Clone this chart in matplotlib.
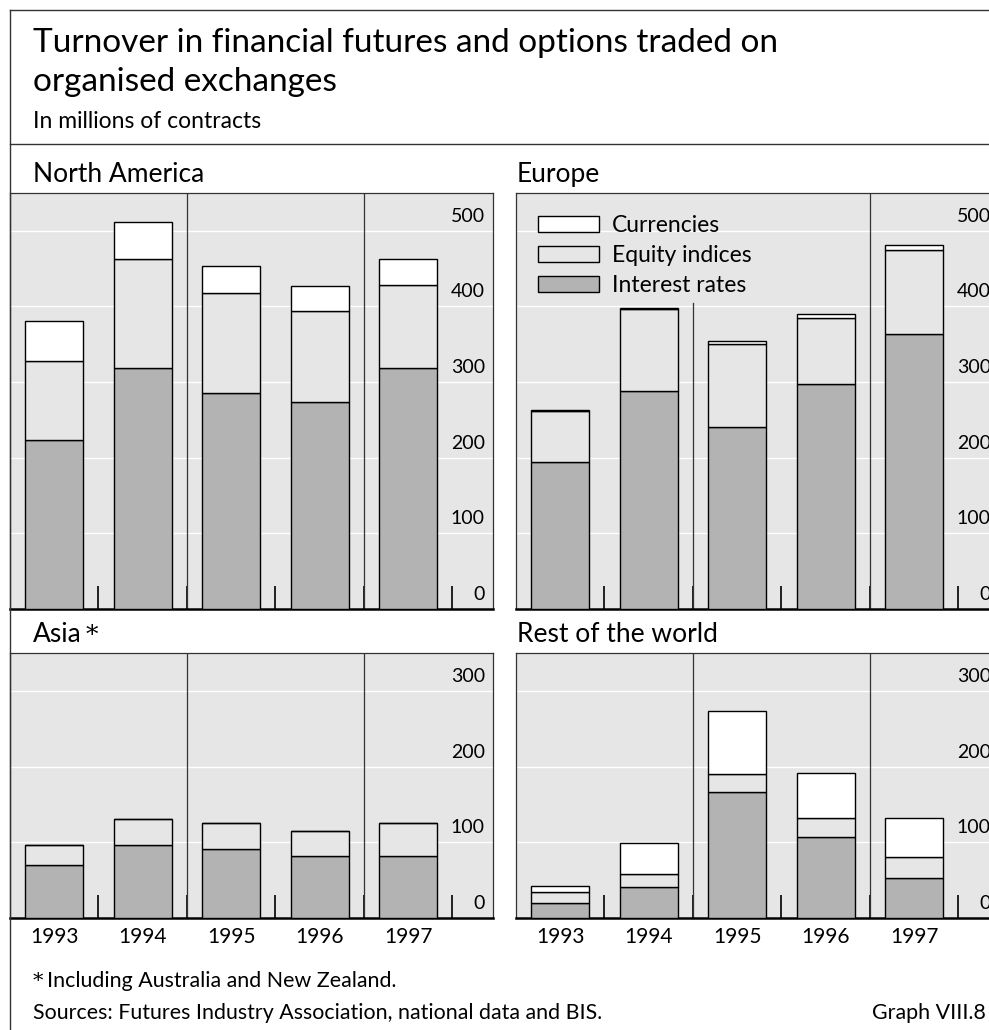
import matplotlib
matplotlib.use('Agg')
import matplotlib.pyplot as plt
import numpy as np
from matplotlib.patches import Patch
from matplotlib.lines import Line2D
import matplotlib.transforms as mtransforms

plt.rcParams['font.family'] = ['Lato', 'DejaVu Sans']

# ---------------- data ----------------
years = ['1993', '1994', '1995', '1996', '1997']
series_names = ['Currencies', 'Equity indices', 'Interest rates']

na_interest = [223, 318, 285, 274, 318]
na_equity = [105, 145, 133, 120, 111]
na_currency = [53, 49, 36, 33, 34]

eu_interest = [195, 288, 240, 297, 363]
eu_equity = [67, 109, 111, 88, 112]
eu_currency = [1, 1, 3, 5, 6]

as_interest = [70, 97, 91, 82, 82]
as_equity = [27, 34, 35, 33, 44]
as_currency = [0, 0, 0, 0, 0]

rw_interest = [20, 41, 167, 107, 53]
rw_equity = [14, 17, 23, 25, 28]
rw_currency = [8, 41, 84, 60, 51]

top_ticks = [0, 100, 200, 300, 400, 500]
bottom_ticks = [0, 100, 200, 300]

panel_titles = ['North America', 'Europe', 'Asia', 'Rest of the world']

# ---------------- style ----------------
W, H = 989, 1030
BG = '#e6e6e6'
IR_C = '#b3b3b3'
EQ_C = '#e6e6e6'
CU_C = '#ffffff'
LINE_C = '#333333'

fig = plt.figure(figsize=(W / 100, H / 100), dpi=100)
fig.patch.set_facecolor('white')


def fx(px):
    return px / W


def fy(py):
    return 1 - py / H


def make_axes(left, top, bottom, width=483):
    return fig.add_axes([fx(left), fy(bottom), width / W, (bottom - top) / H])


def draw_panel(ax, ir, eq, cu, ymax, ticks, show_years, vline_top=(1.0, 1.0)):
    x = np.arange(len(years))
    ir = np.array(ir, float)
    eq = np.array(eq, float)
    cu = np.array(cu, float)
    ax.set_facecolor(BG)
    ax.set_xlim(-0.5, 4.96)
    ax.set_ylim(0, ymax)
    for t in ticks:
        ax.axhline(t, color='white', lw=1.0, zorder=1)
    ax.axvline(1.5, ymin=0, ymax=vline_top[0], color=LINE_C, lw=0.9, zorder=2)
    ax.axvline(3.5, ymin=0, ymax=vline_top[1], color=LINE_C, lw=0.9, zorder=2)
    bw = 0.655
    ax.bar(x, ir, width=bw, color=IR_C, edgecolor='black', lw=1.0, zorder=3)
    ax.bar(x, eq, width=bw, bottom=ir, color=EQ_C, edgecolor='black', lw=1.0, zorder=3)
    ax.bar(x, cu, width=bw, bottom=ir + eq, color=CU_C, edgecolor='black', lw=1.0, zorder=3)
    # y labels inside on the right, raised above their gridlines
    trans = mtransforms.offset_copy(ax.get_yaxis_transform(), fig=fig, x=0, y=9, units='dots')
    for t in ticks:
        ax.text(0.983, t, str(t), transform=trans, ha='right', va='baseline',
                fontsize=14, color='black', zorder=5, clip_on=False)
    ax.set_yticks([])
    ax.set_xticks(x)
    if show_years:
        ax.set_xticklabels(years, fontsize=15)
    else:
        ax.set_xticklabels([])
    ax.tick_params(axis='x', which='major', length=0, pad=6.5)
    ax.set_xticks(x + 0.5, minor=True)
    ax.tick_params(axis='x', which='minor', direction='in', length=16.5, width=1.2, color='black')
    for s in ['top', 'left', 'right']:
        ax.spines[s].set_color(LINE_C)
        ax.spines[s].set_linewidth(0.9)
    ax.spines['bottom'].set_color('black')
    ax.spines['bottom'].set_linewidth(1.8)


ax_na = make_axes(10, 193, 609)
ax_eu = make_axes(516, 193, 609)
ax_as = make_axes(10, 653, 918)
ax_rw = make_axes(516, 653, 918)

draw_panel(ax_na, na_interest, na_equity, na_currency, 550, top_ticks, False)
draw_panel(ax_eu, eu_interest, eu_equity, eu_currency, 550, top_ticks, False,
           vline_top=(0.735, 1.0))
draw_panel(ax_as, as_interest, as_equity, as_currency, 350, bottom_ticks, True)
draw_panel(ax_rw, rw_interest, rw_equity, rw_currency, 350, bottom_ticks, True)

# legend in Europe panel
handles = [Patch(facecolor=CU_C, edgecolor='black', lw=1.0),
           Patch(facecolor=EQ_C, edgecolor='black', lw=1.0),
           Patch(facecolor=IR_C, edgecolor='black', lw=1.0)]
leg = ax_eu.legend(handles, series_names, loc='upper left',
                   bbox_to_anchor=(fx(531), fy(208)), bbox_transform=fig.transFigure,
                   frameon=False, fontsize=16.5, handlelength=2.66, handleheight=0.655,
                   handletextpad=0.57, labelspacing=0.40, borderpad=0.3, borderaxespad=0)
leg.set_zorder(6)

# frame lines
fig.add_artist(Line2D([fx(10), fx(10)], [fy(10), 0], color=LINE_C, lw=1.0))
fig.add_artist(Line2D([fx(10), 1], [fy(10), fy(10)], color=LINE_C, lw=1.0))
fig.add_artist(Line2D([fx(10), 1], [fy(144), fy(144)], color=LINE_C, lw=1.0))

# texts
fig.text(fx(33), fy(52), 'Turnover in financial futures and options traded on',
         fontsize=24, va='baseline', ha='left')
fig.text(fx(33), fy(91), 'organised exchanges', fontsize=24, va='baseline', ha='left')
fig.text(fx(33), fy(128), 'In millions of contracts', fontsize=16.5, va='baseline', ha='left')

fig.text(fx(33), fy(182), panel_titles[0], fontsize=19, va='baseline', ha='left')
fig.text(fx(517), fy(182), panel_titles[1], fontsize=19, va='baseline', ha='left')
fig.text(fx(33), fy(642), panel_titles[2], fontsize=19, va='baseline', ha='left')
fig.text(fx(86), fy(642), '*', fontsize=18, va='baseline', ha='left', family='DejaVu Serif')
fig.text(fx(517), fy(642), panel_titles[3], fontsize=19, va='baseline', ha='left')

fig.text(fx(33), fy(987), '*', fontsize=15, va='baseline', ha='left', family='DejaVu Serif')
fig.text(fx(47), fy(987), 'Including Australia and New Zealand.', fontsize=15.4,
         va='baseline', ha='left')
fig.text(fx(33), fy(1019), 'Sources: Futures Industry Association, national data and BIS.',
         fontsize=15.4, va='baseline', ha='left')
fig.text(fx(986), fy(1019), 'Graph VIII.8', fontsize=15.4, va='baseline', ha='right')

fig.savefig('out.png', dpi=100, facecolor='white')
